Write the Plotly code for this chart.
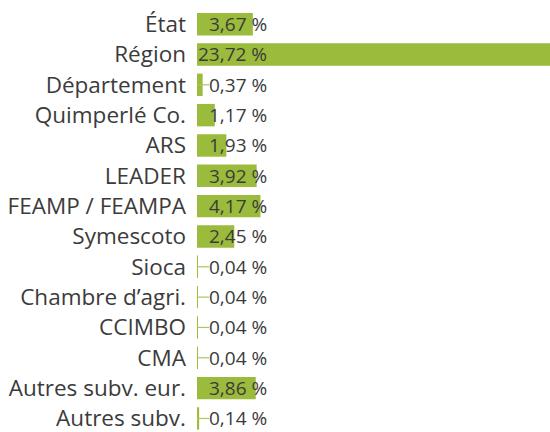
import plotly.graph_objects as go

categories = ["État", "Région", "Département", "Quimperlé Co.", "ARS", "LEADER",
              "FEAMP / FEAMPA", "Symescoto", "Sioca", "Chambre d’agri.", "CCIMBO",
              "CMA", "Autres subv. eur.", "Autres subv."]
values = [3.67, 23.72, 0.37, 1.17, 1.93, 3.92, 4.17, 2.45, 0.04, 0.04, 0.04, 0.04, 3.86, 0.14]
value_labels = ["{:.2f} %".format(v).replace(".", ",") for v in values]

green = "#9bbb3c"
text_col = "#3b3b3b"

fig = go.Figure()
fig.add_trace(go.Bar(x=values, y=categories, orientation="h",
                     marker=dict(color=green, line=dict(width=0)),
                     hoverinfo="skip"))

# petits traits de rappel pour les très petites valeurs
for c, v in zip(categories, values):
    if v < 1:
        fig.add_trace(go.Scatter(x=[0, 0.8], y=[c, c], mode="lines",
                                 line=dict(color="#a9c75a", width=1.2),
                                 hoverinfo="skip"))

for c, lab in zip(categories, value_labels):
    fig.add_annotation(x=4.75, y=c, text=lab, showarrow=False, xanchor="right",
                       font=dict(family="Open Sans", size=19, color=text_col))

fig.update_layout(
    width=550, height=440,
    margin=dict(l=197, r=0, t=9, b=0, autoexpand=False),
    plot_bgcolor="white", paper_bgcolor="white",
    showlegend=False, bargap=0.26,
    xaxis=dict(range=[0, 23.2], visible=False, fixedrange=True),
    yaxis=dict(autorange="reversed", showgrid=False, zeroline=False, ticks="",
               automargin=False, ticklabelstandoff=10, fixedrange=True,
               tickfont=dict(family="Open Sans", size=22.5, color=text_col)),
)

# pas de marge autour du graphique dans la page
fig.write_html("out.html", config={"displayModeBar": False},
               post_script="document.body.style.margin='0';document.body.style.overflow='hidden';")
